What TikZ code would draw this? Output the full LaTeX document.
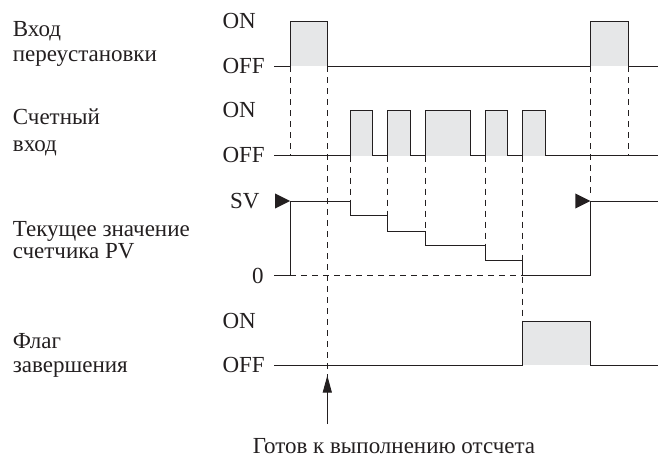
\documentclass[tikz,border=0pt]{standalone}
\usepackage{fontspec}
\setmainfont{Liberation Serif}
\usetikzlibrary{arrows.meta}
\definecolor{pulse}{HTML}{E6E7E8}
\definecolor{ink}{HTML}{231F20}
\begin{document}
\begin{tikzpicture}[x=1pt,y=-1pt,
  sig/.style={line width=0.9pt, draw=ink},
  dsh/.style={line width=0.75pt, draw=ink, dash pattern=on 6pt off 5pt},
  lbl/.style={anchor=base west, inner sep=0pt, text=ink, font=\fontsize{23}{27}\selectfont},
  tri/.style={fill=ink},
]
\useasboundingbox (0,0) rectangle (658,457);

% labels
\node[lbl] (l1a) at (12.7,37) {Вход};
\node[lbl] (l1b) at (12.7,62) {переустановки};
\node[lbl] (l2a) at (12.7,125) {Счетный};
\node[lbl] (l2b) at (12.7,152) {вход};
\node[lbl] (l3a) at (12.7,236) {Текущее значение};
\node[lbl] (l3b) at (12.7,258.3) {счетчика PV};
\node[lbl] (l4a) at (12.7,348) {Флаг};
\node[lbl] (l4b) at (12.7,372) {завершения};

\node[lbl] (on1) at (222.3,28.5) {ON};
\node[lbl] (off1) at (222.3,74) {OFF};
\node[lbl] (on2) at (222.3,118) {ON};
\node[lbl] (off2) at (222.3,163) {OFF};
\node[lbl] (sv) at (230,208) {SV};
\node[lbl] (zero) at (252,283) {0};
\node[lbl] (on3) at (222.3,328) {ON};
\node[lbl] (off3) at (222.3,372) {OFF};

\node[lbl] (ready) at (252.7,453) {Готов к выполнению отсчета};

% reset input
\fill[pulse] (290,21) rectangle (327.3,66.3);
\fill[pulse] (590.3,21) rectangle (628,66.3);
\draw[sig] (274,66.3) -- (290,66.3) -- (290,21) -- (327.3,21) -- (327.3,66.3) -- (590.3,66.3) -- (590.3,21) -- (628,21) -- (628,66.3) -- (658,66.3);

% count input
\foreach \a/\b in {350/372.3, 387.7/410, 425/470, 485.3/507.7, 522.7/545}
  \fill[pulse] (\a,110.7) rectangle (\b,155.7);
\draw[sig] (274,155.7) -- (350,155.7) -- (350,110.7) -- (372.3,110.7) -- (372.3,155.7)
  -- (387.7,155.7) -- (387.7,110.7) -- (410,110.7) -- (410,155.7)
  -- (425,155.7) -- (425,110.7) -- (470,110.7) -- (470,155.7)
  -- (485.3,155.7) -- (485.3,110.7) -- (507.7,110.7) -- (507.7,155.7)
  -- (522.7,155.7) -- (522.7,110.7) -- (545,110.7) -- (545,155.7) -- (658,155.7);

% present value
\draw[sig] (274,275.7) -- (290,275.7);
\draw[sig] (290,275.7) -- (290,201) -- (350,201) -- (350,215.7) -- (387.7,215.7) -- (387.7,231)
  -- (425,231) -- (425,245.7) -- (485.3,245.7) -- (485.3,260.7) -- (522.7,260.7) -- (522.7,275.7)
  -- (590.3,275.7) -- (590.3,201) -- (658,201);
\draw[dsh] (290,275.7) -- (522.7,275.7);
\fill[tri] (275,193.5) -- (290,201) -- (275,208.5) -- cycle;
\fill[tri] (575.3,193.5) -- (590.3,201) -- (575.3,208.5) -- cycle;

% completion flag
\fill[pulse] (522.7,321) rectangle (590.3,365);
\draw[sig] (274,365) -- (522.7,365) -- (522.7,321) -- (590.3,321) -- (590.3,365) -- (658,365);

% dashed guides
\draw[dsh] (290,66.3) -- (290,155.7);
\draw[dsh] (327.3,66.3) -- (327.3,377);
\draw[dsh] (350,155.7) -- (350,201);
\draw[dsh] (387.7,155.7) -- (387.7,215.7);
\draw[dsh] (425,155.7) -- (425,231);
\draw[dsh] (485.3,155.7) -- (485.3,245.7);
\draw[dsh] (522.7,155.7) -- (522.7,321);
\draw[dsh] (590.3,66.3) -- (590.3,193);
\draw[dsh] (628,66.3) -- (628,155.7);

% arrow
\coordinate (atail) at (327.3,424);
\coordinate (atip) at (327.3,375.5);
\draw[sig, -{Triangle[length=17pt,width=9pt]}] (atail) -- (atip);
\end{tikzpicture}
\end{document}
